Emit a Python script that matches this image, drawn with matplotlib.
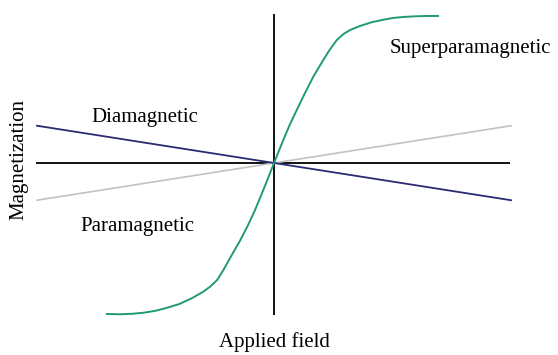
import matplotlib.pyplot as plt

# applied field (x) / magnetization (y), arbitrary units
field_line = [-1.0, 1.0]
dia_m = [0.245, -0.245]
para_m = [-0.245, 0.245]

# superparamagnetic curve
super_h = [-0.705, -0.65, -0.60, -0.55, -0.50, -0.45, -0.40, -0.347, -0.30, -0.27,
           -0.24, -0.214, -0.18, -0.143, -0.11, -0.08, -0.055, -0.038, -0.018, 0.0,
           0.02, 0.039, 0.066, 0.096, 0.13, 0.166, 0.208, 0.235, 0.265, 0.293,
           0.321, 0.363, 0.41, 0.46, 0.502, 0.55, 0.60, 0.65, 0.692]
super_m = [-0.993, -0.995, -0.992, -0.985, -0.972, -0.952, -0.928, -0.890, -0.848, -0.814,
           -0.77, -0.705, -0.610, -0.510, -0.410, -0.309, -0.215, -0.150, -0.071, 0.0,
           0.077, 0.151, 0.250, 0.349, 0.458, 0.568, 0.678, 0.745, 0.809, 0.848,
           0.875, 0.901, 0.925, 0.942, 0.954, 0.961, 0.965, 0.967, 0.967]

plt.rcParams['font.family'] = ['Liberation Serif', 'DejaVu Serif']

fig = plt.figure(figsize=(5.58, 3.55), dpi=100)
ax = fig.add_axes([0, 0, 1, 1])
ax.set_xlim(-1.156, 1.198)
ax.set_ylim(-1.263, 1.072)
ax.axis('off')

# axes cross
ax.hlines(0, -1.004, 0.996, color='black', lw=1.3)
ax.vlines(0, -1.0, 0.98, color='black', lw=1.3)

ax.plot(field_line, para_m, color='#c2c2c2', lw=1.2)
ax.plot(field_line, dia_m, color='#2a2a72', lw=1.3)
ax.plot(super_h, super_m, color='#1f9a74', lw=1.4, solid_joinstyle='round')

fs = 15
ax.text(-0.545, 0.30, 'Diamagnetic', fontsize=fs, ha='center', va='center')
ax.text(-0.578, -0.415, 'Paramagnetic', fontsize=fs, ha='center', va='center')
ax.text(0.83, 0.75, 'Superparamagnetic', fontsize=fs, ha='center', va='center')
ax.text(0.0, -1.178, 'Applied field', fontsize=fs, ha='center', va='center')
ax.text(-1.075, 0.02, 'Magnetization', fontsize=fs, ha='center', va='center', rotation=90)

plt.savefig('out.png', dpi=100)
